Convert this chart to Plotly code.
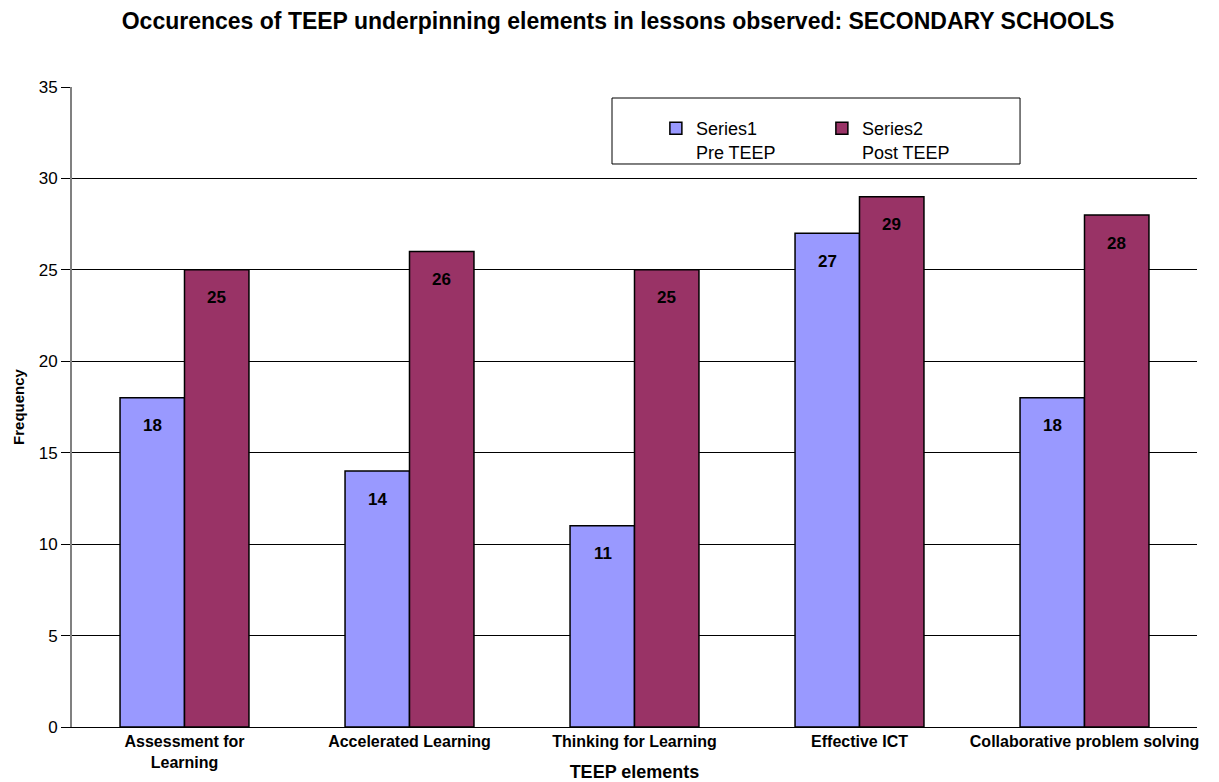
import plotly.graph_objects as go

categories = ["Assessment for<br>Learning", "Accelerated Learning", "Thinking for Learning",
              "Effective ICT", "Collaborative problem solving"]
pre_teep = [18, 14, 11, 27, 18]
post_teep = [25, 26, 25, 29, 28]
series_names = ["Series1<br>Pre TEEP", "Series2<br>Post TEEP"]
y_ticks = [0, 5, 10, 15, 20, 25, 30, 35]

FONT = "Liberation Sans, Arial, sans-serif"
PRE_COLOR = "#9999FF"
POST_COLOR = "#993366"

fig = go.Figure()
fig.add_trace(go.Bar(x=categories, y=pre_teep, name=series_names[0],
                     marker=dict(color=PRE_COLOR, line=dict(color="black", width=1.5))))
fig.add_trace(go.Bar(x=categories, y=post_teep, name=series_names[1],
                     marker=dict(color=POST_COLOR, line=dict(color="black", width=1.5))))

# value labels sitting just inside the top of each bar
annotations = []
for i, cat in enumerate(categories):
    for vals, shift in ((pre_teep, -32), (post_teep, 32)):
        annotations.append(dict(x=cat, y=vals[i], text="<b>%d</b>" % vals[i],
                                showarrow=False, xshift=shift, yshift=-28,
                                font=dict(family=FONT, size=17, color="black")))

# framed box behind the legend entries
shapes = [dict(type="rect", xref="paper", yref="paper", x0=0.48, x1=0.8427, y0=0.8797, y1=0.9828,
               fillcolor="white", line=dict(color="black", width=1), layer="above")]

fig.update_layout(
    width=1219, height=782,
    margin=dict(l=72, r=22, t=87, b=55),
    paper_bgcolor="white", plot_bgcolor="white",
    font=dict(family=FONT, color="black"),
    title=dict(text="<b>Occurences of TEEP underpinning elements in lessons observed: SECONDARY SCHOOLS</b>",
               x=0.507, xanchor="center", y=0.973, yanchor="middle",
               font=dict(family=FONT, size=23, color="black")),
    barmode="group", bargap=0.427, bargroupgap=0,
    showlegend=True,
    legend=dict(orientation="h", x=0.519, xanchor="left", y=0.964, yanchor="top",
                bgcolor="rgba(0,0,0,0)", borderwidth=0,
                font=dict(family=FONT, size=18, color="black"),
                entrywidth=121, entrywidthmode="pixels", valign="top",
                itemclick=False, itemdoubleclick=False),
    annotations=annotations,
    shapes=shapes,
)
fig.update_xaxes(
    showline=True, linecolor="black", linewidth=1, ticks="",
    tickfont=dict(family=FONT, size=16, color="black"),
    title=dict(text="<b>TEEP elements</b>", font=dict(family=FONT, size=18, color="black"), standoff=2),
    tickprefix="<b>", ticksuffix="</b>", automargin=False,
)
fig.update_yaxes(
    range=[0, 35], tickvals=y_ticks, showgrid=True, gridcolor="black", gridwidth=1,
    showline=True, linecolor="#808080", linewidth=2, ticks="outside", ticklen=9, tickcolor="black",
    tickfont=dict(family=FONT, size=17, color="black"), zeroline=False,
    title=dict(text="<b>Frequency</b>", font=dict(family=FONT, size=15, color="black"), standoff=10),
    automargin=False,
)

fig.write_html("out.html")
